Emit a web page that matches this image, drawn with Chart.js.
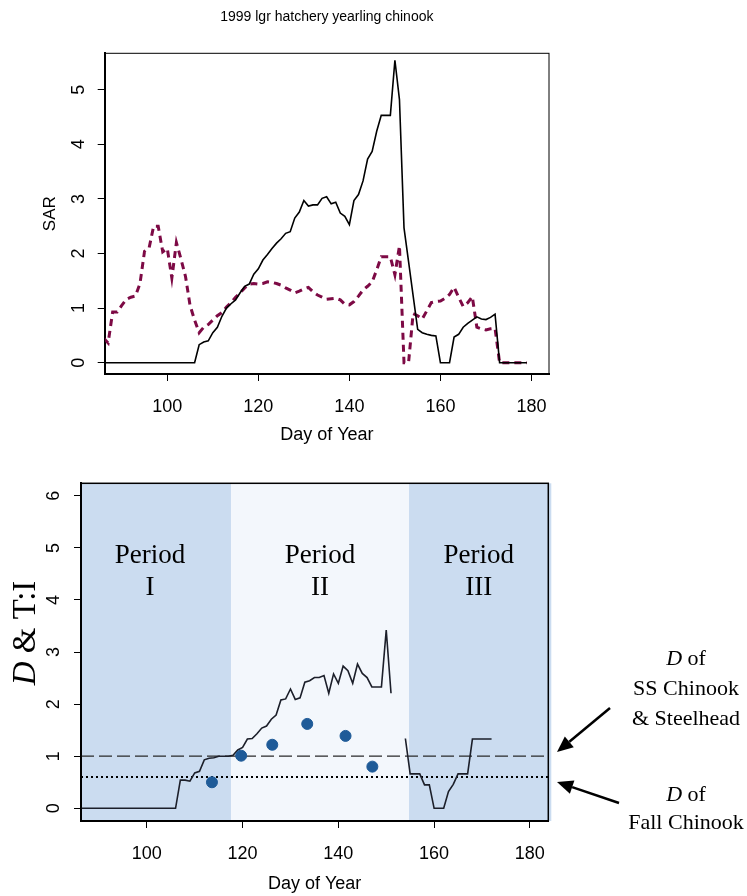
<!DOCTYPE html>
<html>
<head>
<meta charset="utf-8">
<script src="https://cdn.jsdelivr.net/npm/chart.js@4.4.1/dist/chart.umd.min.js"></script>
<style>
  html, body { margin: 0; padding: 0; background: #fff; }
  #wrap { position: relative; width: 747px; height: 896px; }
  #c1 { position: absolute; left: 0; top: 0; }
  #c2 { position: absolute; left: 0; top: 450px; }
</style>
</head>
<body>
<div id="wrap">
  <canvas id="c1" width="747" height="450"></canvas>
  <canvas id="c2" width="747" height="446"></canvas>
</div>
<script>
// ---------- DATA ----------
const titleTop = "1999 lgr hatchery yearling chinook";
const xTitle = "Day of Year";
const yTitleTop = "SAR";

const sarDays = [86,87,88,89,90,91,92,93,94,95,96,97,98,99,100,101,102,103,104,105,
  106,107,108,109,110,111,112,113,114,115,116,117,118,119,120,121,122,123,124,125,
  126,127,128,129,130,131,132,133,134,135,136,137,138,139,140,141,142,143,144,145,
  146,147,148,149,150,151,152,153,154,155,156,157,158,159,160,161,162,163,164,165,
  166,167,168,169,170,171,172,173,174,175,176,177,178,179];

// solid black series
const sarHatchery = [0,0,0,0,0,0,0,0,0,0,0,0,0,0,0,0,0,0,0,0,
  0,0.33,0.38,0.40,0.55,0.65,0.85,1.00,1.08,1.15,1.28,1.40,1.44,1.62,1.72,1.88,1.98,2.09,2.19,2.27,
  2.37,2.40,2.65,2.76,2.97,2.87,2.89,2.89,3.01,3.04,2.91,2.94,2.74,2.68,2.53,2.97,3.08,3.33,3.73,3.87,
  4.24,4.53,4.53,4.53,5.54,4.82,2.47,1.85,1.23,0.61,0.55,0.52,0.50,0.49,0,0,0,0.47,0.52,0.65,
  0.72,0.78,0.84,0.80,0.79,0.83,0.89,0,0,0,0,0,0,0];

// dashed maroon series
const sarOther = [0.45,0.36,0.93,0.93,1.05,1.16,1.20,1.22,1.45,2.04,2.10,2.50,2.50,2.03,2.09,1.55,2.20,1.90,1.58,1.05,
  0.78,0.55,0.65,0.70,0.78,0.86,0.92,1.02,1.10,1.20,1.28,1.37,1.44,1.45,1.44,1.45,1.48,1.47,1.45,1.42,
  1.37,1.33,1.28,1.31,1.35,1.38,1.30,1.24,1.20,1.16,1.17,1.18,1.15,1.07,1.06,1.12,1.22,1.33,1.40,1.48,
  1.70,1.94,1.94,1.94,1.61,2.14,0,0,0.90,0.86,0.80,0.95,1.10,1.12,1.13,1.18,1.25,1.38,1.20,1.03,
  1.10,1.21,0.65,0.62,0.60,0.62,0.63,0,0,0,0,0,0,0];

const dDays = [86,87,88,89,90,91,92,93,94,95,96,97,98,99,100,101,102,103,104,105,
  106,107,108,109,110,111,112,113,114,115,116,117,118,119,120,121,122,123,124,125,
  126,127,128,129,130,131,132,133,134,135,136,137,138,139,140,141,142,143,144,145,
  146,147,148,149,150,151,152,153,154,155,156,157,158,159,160,161,162,163,164,165,
  166,167,168,169,170,171,172];
const dValues = [0,0,0,0,0,0,0,0,0,0,0,0,0,0,0,0,0,0,0,0,
  0,0.54,0.54,0.52,0.68,0.71,0.93,0.96,0.97,1.00,1.00,1.00,1.02,1.12,1.17,1.33,1.34,1.43,1.54,1.58,
  1.71,1.79,2.08,2.10,2.29,2.09,2.12,2.42,2.45,2.51,2.51,2.55,2.21,2.58,2.40,2.73,2.64,2.40,2.77,2.59,
  2.51,2.33,2.33,2.33,3.42,2.21,null,null,1.34,0.66,0.66,0.66,0.45,0.45,0,0,0,0.32,0.46,0.66,
  0.66,0.66,1.33,1.33,1.33,1.33,1.33];

const tiDays = [113.6, 119.7, 126.2, 133.5, 141.5, 147.1];
const tiValues = [0.50, 1.01, 1.22, 1.62, 1.39, 0.80];

const dSteelhead = 1.0;   // D of SS Chinook & Steelhead
const dFall = 0.6;        // D of Fall Chinook

const periodBounds = [86.25, 117.6, 154.76, 183.85];
const periodNames = ["I", "II", "III"];

const xMin = 86.25, xMax = 183.85;
const yTopMin = -0.207, yTopMax = 5.667;
const yBotMin = -0.244, yBotMax = 6.24;

// ---------- helpers ----------
const SANS = "'Liberation Sans', Arial, sans-serif";
const SERIF = "'Liberation Serif', 'Times New Roman', serif";
const toXY = (xs, ys) => xs.map((x, i) => ({ x: x, y: ys[i] }));

function xAxis(height) {
  return {
    type: 'linear', min: xMin, max: xMax,
    ticks: { stepSize: 20, includeBounds: false, color: '#000', padding: 15,
             font: { family: SANS, size: 18 }, maxRotation: 0 },
    grid: { drawOnChartArea: false, drawTicks: true, tickLength: 7, color: '#000', lineWidth: 1 },
    border: { display: true, color: '#000', width: 2 },
    afterFit: s => { s.height = height; }
  };
}
function yAxis(min, max, width, pad) {
  return {
    type: 'linear', min: min, max: max,
    ticks: { stepSize: 1, includeBounds: false, color: '#000', padding: pad,
             font: { family: SANS, size: 18 }, minRotation: 90, maxRotation: 90, crossAlign: 'center' },
    grid: { drawOnChartArea: false, drawTicks: true, tickLength: 7, color: '#000', lineWidth: 1 },
    border: { display: true, color: '#000', width: 2 },
    afterFit: s => { s.width = width; }
  };
}

// ---------- TOP CHART ----------
const topPlugin = {
  id: 'topDecor',
  afterDraw(chart) {
    const ctx = chart.ctx, a = chart.chartArea;
    ctx.save();
    ctx.strokeStyle = '#000'; ctx.lineWidth = 1;
    ctx.strokeRect(a.left, a.top, a.right - a.left, a.bottom - a.top);
    ctx.fillStyle = '#000';
    ctx.textAlign = 'center'; ctx.textBaseline = 'middle';
    ctx.font = '14px ' + SANS;
    ctx.fillText(titleTop, (a.left + a.right) / 2, 17);
    ctx.font = '18px ' + SANS;
    ctx.fillText(xTitle, (a.left + a.right) / 2, 435);
    ctx.translate(50, (a.top + a.bottom) / 2);
    ctx.rotate(-Math.PI / 2);
    ctx.font = '17px ' + SANS;
    ctx.fillText(yTitleTop, 0, 0);
    ctx.restore();
  }
};

new Chart(document.getElementById('c1'), {
  type: 'line',
  data: {
    datasets: [
      { data: toXY(sarDays, sarOther), borderColor: '#7d0a45', borderWidth: 3,
        borderDash: [7, 5], pointRadius: 0, tension: 0, fill: false, order: 2 },
      { data: toXY(sarDays, sarHatchery), borderColor: '#000', borderWidth: 1.6,
        pointRadius: 0, tension: 0, fill: false, order: 1 }
    ]
  },
  options: {
    responsive: false, animation: false,
    layout: { padding: { top: 53.3, right: 198, left: 0, bottom: 0 } },
    plugins: { legend: { display: false }, tooltip: { enabled: false } },
    scales: { x: xAxis(76), y: yAxis(yTopMin, yTopMax, 104.7, 14) }
  },
  plugins: [topPlugin]
});

// ---------- BOTTOM CHART ----------
function arrow(ctx, x1, y1, x2, y2) {
  const ang = Math.atan2(y2 - y1, x2 - x1);
  const hl = 16, hw = 7;
  const bx = x2 - hl * Math.cos(ang), by = y2 - hl * Math.sin(ang);
  ctx.beginPath();
  ctx.moveTo(x1, y1); ctx.lineTo(bx, by);
  ctx.lineWidth = 2.5; ctx.strokeStyle = '#000'; ctx.stroke();
  ctx.beginPath();
  ctx.moveTo(x2, y2);
  ctx.lineTo(bx + hw * Math.sin(ang), by - hw * Math.cos(ang));
  ctx.lineTo(bx - hw * Math.sin(ang), by + hw * Math.cos(ang));
  ctx.closePath(); ctx.fillStyle = '#000'; ctx.fill();
}
function mixedLine(ctx, parts, cx, cy) {
  let total = 0;
  parts.forEach(p => { ctx.font = p[1]; total += ctx.measureText(p[0]).width; });
  let x = cx - total / 2;
  ctx.textAlign = 'left';
  parts.forEach(p => { ctx.font = p[1]; ctx.fillText(p[0], x, cy); x += ctx.measureText(p[0]).width; });
}

const botPlugin = {
  id: 'botDecor',
  beforeDraw(chart) {
    const ctx = chart.ctx, a = chart.chartArea, xs = chart.scales.x;
    const cols = ['#cbdcf0', '#f3f7fc', '#cbdcf0'];
    ctx.save();
    for (let i = 0; i < 3; i++) {
      const l = xs.getPixelForValue(periodBounds[i]);
      const r = xs.getPixelForValue(periodBounds[i + 1]);
      ctx.fillStyle = cols[i];
      ctx.fillRect(l, a.top, r - l + (i === 2 ? 3 : 0), a.bottom - a.top);
    }
    ctx.restore();
  },
  afterDraw(chart) {
    const ctx = chart.ctx, a = chart.chartArea, xs = chart.scales.x;
    ctx.save();
    ctx.strokeStyle = '#000'; ctx.lineWidth = 1.5;
    ctx.strokeRect(a.left, a.top, a.right - a.left, a.bottom - a.top);
    ctx.fillStyle = '#000';
    ctx.font = '27px ' + SERIF; ctx.textAlign = 'center'; ctx.textBaseline = 'alphabetic';
    for (let i = 0; i < 3; i++) {
      const cx = xs.getPixelForValue((periodBounds[i] + periodBounds[i + 1]) / 2) + (i === 0 ? -6 : 0);
      ctx.fillText('Period', cx, 113);
      ctx.fillText(periodNames[i], cx, 145);
    }
    ctx.font = '18px ' + SANS; ctx.textBaseline = 'middle';
    ctx.fillText(xTitle, (a.left + a.right) / 2, 434);
    ctx.save();
    ctx.translate(35, 183);
    ctx.rotate(-Math.PI / 2);
    ctx.textBaseline = 'alphabetic';
    mixedLine(ctx, [['D', 'italic 33px ' + SERIF], [' & T:I', '33px ' + SERIF]], 0, 0);
    ctx.restore();
    ctx.textBaseline = 'alphabetic';
    const ax = 686;
    mixedLine(ctx, [['D', 'italic 22px ' + SERIF], [' of', '22px ' + SERIF]], ax, 215);
    ctx.textAlign = 'center'; ctx.font = '22px ' + SERIF;
    ctx.fillText('SS Chinook', ax, 245);
    ctx.fillText('& Steelhead', ax, 275);
    mixedLine(ctx, [['D', 'italic 22px ' + SERIF], [' of', '22px ' + SERIF]], ax, 351);
    ctx.textAlign = 'center'; ctx.font = '22px ' + SERIF;
    ctx.fillText('Fall Chinook', ax, 379);
    arrow(ctx, 610, 258, 557, 302);
    arrow(ctx, 619, 353, 557, 332);
    ctx.restore();
  }
};

new Chart(document.getElementById('c2'), {
  type: 'line',
  data: {
    datasets: [
      { type: 'scatter', data: toXY(tiDays, tiValues), backgroundColor: '#1f5b98',
        borderColor: '#1f5b98', pointRadius: 5.5, pointHoverRadius: 5.5, order: 0 },
      { data: toXY(dDays, dValues), borderColor: '#1c1f2a', borderWidth: 1.6,
        pointRadius: 0, tension: 0, spanGaps: false, fill: false, order: 1 },
      { data: [{ x: xMin, y: dSteelhead }, { x: xMax, y: dSteelhead }], borderColor: '#2a2a2a',
        borderWidth: 1.2, borderDash: [13, 5], pointRadius: 0, fill: false, order: 2 },
      { data: [{ x: xMin, y: dFall }, { x: xMax, y: dFall }], borderColor: '#000',
        borderWidth: 2, borderDash: [2, 3], pointRadius: 0, fill: false, order: 3 }
    ]
  },
  options: {
    responsive: false, animation: false,
    layout: { padding: { top: 33.3, right: 198.7, left: 0, bottom: 0 } },
    plugins: { legend: { display: false }, tooltip: { enabled: false } },
    scales: { x: xAxis(75), y: yAxis(yBotMin, yBotMax, 81, 15) }
  },
  plugins: [botPlugin]
});
</script>
</body>
</html>
